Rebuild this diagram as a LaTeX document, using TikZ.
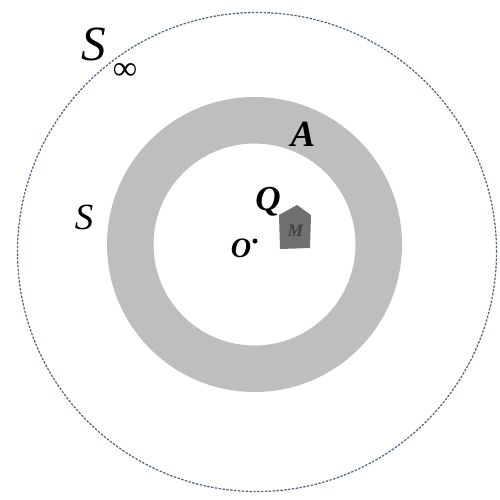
\documentclass[tikz,border=0pt]{standalone}
\usepackage{fontspec}
\newfontfamily\tmfont{Liberation Serif}
\usepackage{tikz}
\definecolor{ringgray}{HTML}{BEBEBE}
\definecolor{bodygray}{HTML}{707070}
\definecolor{infblue}{HTML}{55657D}
\tikzset{
  lab/.style={inner sep=0pt, font=\tmfont\fontsize{#1}{#1}\selectfont\bfseries\itshape},
  labthin/.style={inner sep=0pt, font=\tmfont\fontsize{#1}{#1}\selectfont\itshape},
  infcircle/.style={draw=infblue, line width=0.7pt, dash pattern=on 1.4pt off 0.8pt},
  ring/.style={fill=ringgray, even odd rule},
}
\begin{document}
\begin{tikzpicture}
  \useasboundingbox (0,0) rectangle (10,9.98);
  % surfaces
  \coordinate (c0) at (5.14,4.94);
  \coordinate (c) at (5.09,5.09);
  \draw[infcircle] (c0) circle (4.79);
  \fill[ring] (c) circle (2.95) (c) circle (2.02);
  % body M
  \fill[bodygray] (5.58,5.68) -- (5.94,5.88) -- (6.22,5.68) -- (6.20,5.02) -- (5.60,5.00) -- cycle;
  \node[lab=10, text=black!75] (m) at (5.91,5.36) {M};
  \fill (5.10,5.16) circle (0.05);
  % labels
  \node[labthin=28] (sinf) at (1.88,9.1) {S};
  \node[labthin=19] (inf) at (2.5,8.56) {∞};
  \node[labthin=21] (s) at (1.68,5.64) {S};
  \node[lab=21] (a) at (6.06,7.3) {A};
  \node[lab=20] (q) at (5.36,5.94) {Q};
  \node[lab=16] (o) at (4.82,5.02) {O};
\end{tikzpicture}
\end{document}
